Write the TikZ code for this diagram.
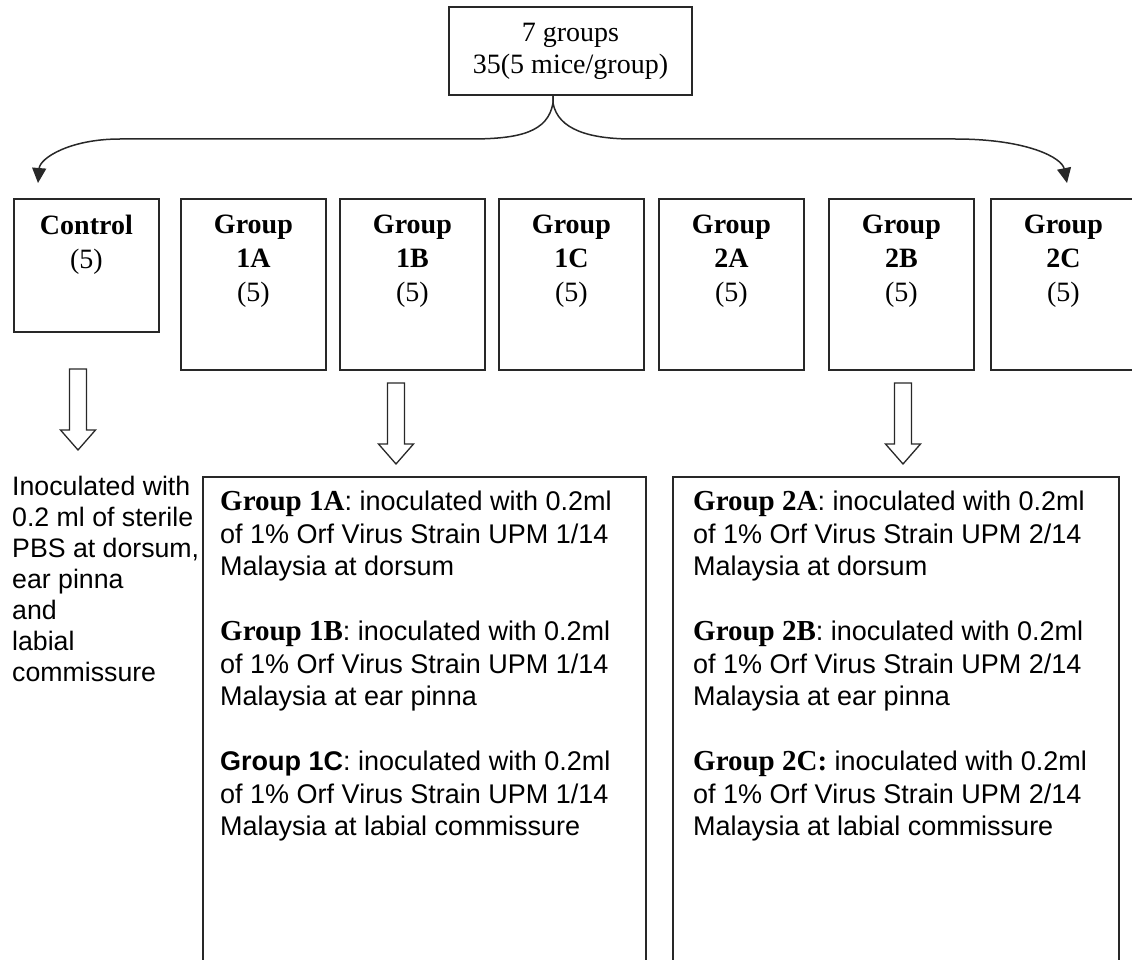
\documentclass[tikz,border=0pt]{standalone}
\usepackage{fontspec}
\setmainfont{Liberation Serif}
\newfontfamily\sansbody{Liberation Sans}
\usetikzlibrary{positioning,calc}
\usetikzlibrary{arrows.meta}
\definecolor{LineGray}{RGB}{40,40,40}
\tikzset{
  topbox/.style={draw=LineGray,line width=1.8pt,minimum width=243pt,minimum height=88pt,inner sep=0pt,
    align=center,font=\fontsize{28}{32}\selectfont},
  grpbox/.style={draw=LineGray,line width=1.8pt,minimum width=145pt,minimum height=171pt,inner sep=0pt,anchor=north west},
  grplab/.style={inner sep=0pt,align=center,font=\fontsize{28}{34}\selectfont},
  bigbox/.style={draw=LineGray,line width=1.8pt,minimum height=560pt,inner sep=0pt,anchor=north west},
  bodytext/.style={inner sep=0pt,align=left,anchor=north west,font=\sansbody\fontsize{27}{32.5}\selectfont},
}
\tikzset{curvearrow/.style={draw=LineGray,line width=1.5pt,-{Triangle[length=15pt,width=14pt]}},
  hollowdown/.pic={\draw[line width=1.3pt,draw=LineGray,fill=white] (-8.5,0) -- (8.5,0) -- (8.5,-61) -- (17.5,-61)
    -- (0,-81) -- (-17.5,-61) -- (-8.5,-61) -- cycle;}}
\newcommand{\grpname}[1]{{\rmfamily\bfseries\fontsize{29}{32.5}\selectfont #1}}

\begin{document}
\begin{tikzpicture}[x=1pt,y=1pt]
\useasboundingbox (0,0) rectangle (1132,-960);
% top box
\node[topbox] (all) at (570.5,-51) {7 groups\\35(5 mice/group)};
% group boxes
\node[grpbox,minimum height=133pt] (ctrl) at (13,-198) {};
\node[grpbox] (g1A) at (180,-198) {};
\node[grpbox] (g1B) at (339,-198) {};
\node[grpbox] (g1C) at (498,-198) {};
\node[grpbox] (g2A) at (658,-198) {};
\node[grpbox] (g2B) at (828,-198) {};
\node[grpbox] (g2C) at (990,-198) {};
\node[grplab,below=17pt of ctrl.north] (ctrllab) {\textbf{Control}\\(5)};
\node[grplab,below=17pt of g1A.north] (g1Alab) {\textbf{Group}\\\textbf{1A}\\(5)};
\node[grplab,below=17pt of g1B.north] (g1Blab) {\textbf{Group}\\\textbf{1B}\\(5)};
\node[grplab,below=17pt of g1C.north] (g1Clab) {\textbf{Group}\\\textbf{1C}\\(5)};
\node[grplab,below=17pt of g2A.north] (g2Alab) {\textbf{Group}\\\textbf{2A}\\(5)};
\node[grplab,below=17pt of g2B.north] (g2Blab) {\textbf{Group}\\\textbf{2B}\\(5)};
\node[grplab,below=17pt of g2C.north] (g2Clab) {\textbf{Group}\\\textbf{2C}\\(5)};
% split arrows
\coordinate (fork) at (553,-95);
\coordinate (ctrltip) at (38,-183);
\coordinate (g2Ctip) at (1067,-183);
\draw[curvearrow] (fork) -- ++(0,-8) .. controls (548,-132) and (520,-139) .. (470,-139) -- (120,-139)
  .. controls (70,-139) and (40,-158) .. (ctrltip);
\draw[curvearrow] (fork) -- ++(0,-8) .. controls (558,-130) and (590,-139) .. (633,-139) -- (955,-139)
  .. controls (1028,-139) and (1062,-158) .. (g2Ctip);
% hollow arrows
\pic at (78,-369) {hollowdown};
\pic at (396,-383) {hollowdown};
\pic at (903,-383) {hollowdown};
% treatments
\node[bodytext,font=\sansbody\fontsize{26.7}{31}\selectfont] (ctrltxt) at (12,-476)
  {Inoculated with\\0.2 ml of sterile\\PBS at dorsum,\\ear pinna\\and\\labial\\commissure};
\node[bigbox,minimum width=443pt] (box1) at (202,-476) {};
\node[bigbox,minimum width=446pt] (box2) at (672,-476) {};
\node[bodytext,below right=15pt and 18pt of box1.north west] (txt1)
  {\grpname{Group 1A}: inoculated with 0.2ml\\of 1\% Orf Virus Strain UPM 1/14\\Malaysia at dorsum\\[32.5pt]
   \grpname{Group 1B}: inoculated with 0.2ml\\of 1\% Orf Virus Strain UPM 1/14\\Malaysia at ear pinna\\[32.5pt]
   {\bfseries Group 1C}: inoculated with 0.2ml\\of 1\% Orf Virus Strain UPM 1/14\\Malaysia at labial commissure};
\node[bodytext,below right=15pt and 21pt of box2.north west] (txt2)
  {\grpname{Group 2A}: inoculated with 0.2ml\\of 1\% Orf Virus Strain UPM 2/14\\Malaysia at dorsum\\[32.5pt]
   \grpname{Group 2B}: inoculated with 0.2ml\\of 1\% Orf Virus Strain UPM 2/14\\Malaysia at ear pinna\\[32.5pt]
   \grpname{Group 2C:} inoculated with 0.2ml\\of 1\% Orf Virus Strain UPM 2/14\\Malaysia at labial commissure};
\end{tikzpicture}
\end{document}
